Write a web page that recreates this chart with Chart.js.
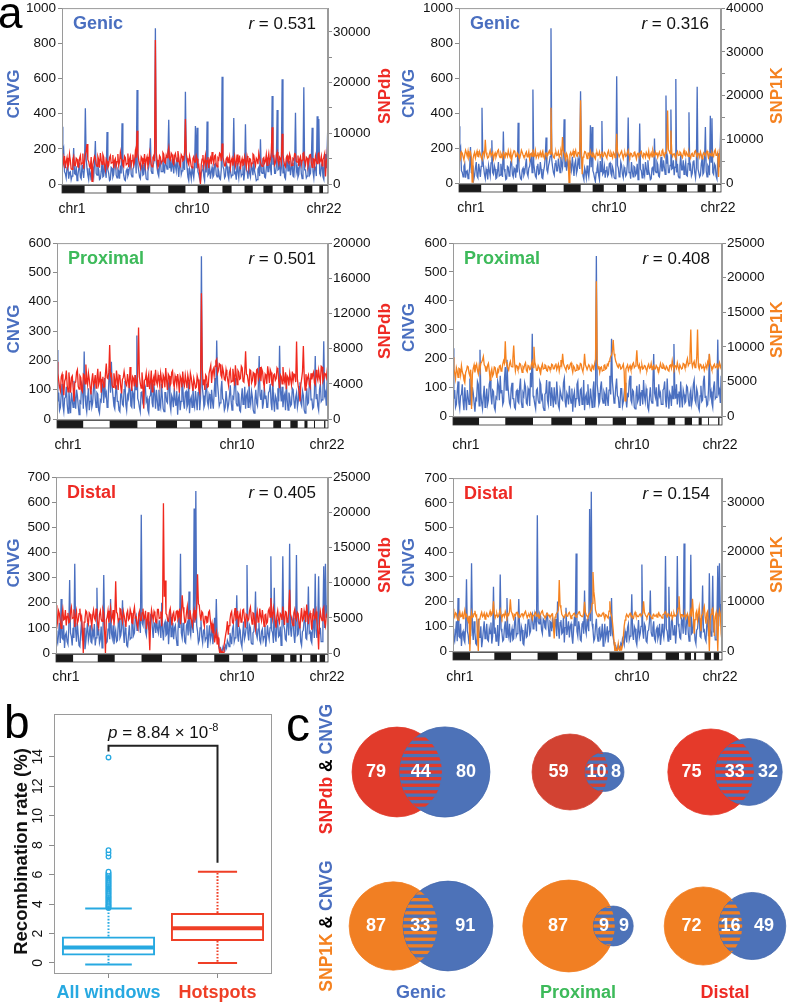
<!DOCTYPE html>
<html><head><meta charset="utf-8">
<script src="https://cdn.jsdelivr.net/npm/chart.js@4.4.1/dist/chart.umd.min.js"></script>
<style>
html,body{margin:0;padding:0;background:#fff;}
body{width:787px;height:1003px;position:relative;overflow:hidden;font-family:"Liberation Sans",Arial,Helvetica,sans-serif;}
canvas{position:absolute;}
.t{position:absolute;white-space:nowrap;line-height:1;}
.c{transform:translate(-50%,-50%);}
.rot{transform:translate(-50%,-50%) rotate(-90deg);font-weight:bold;font-size:17.5px;}
</style></head><body>
<canvas id="a1"></canvas><canvas id="a2"></canvas>
<canvas id="a3"></canvas><canvas id="a4"></canvas>
<canvas id="a5"></canvas><canvas id="a6"></canvas>
<canvas id="bx"></canvas><canvas id="vn"></canvas>
<div class="t" style="left:-2px;top:-9px;font-size:44px;">a</div>
<div class="t" style="left:4px;top:699px;font-size:46px;">b</div>
<div class="t" style="left:286px;top:701px;font-size:48px;">c</div>
<div class="t rot" style="left:327px;top:769px;"><span style="color:#ee2a24">SNPdb</span> &amp; <span style="color:#4a6fc0">CNVG</span></div>
<div class="t rot" style="left:327px;top:926px;"><span style="color:#f58220">SNP1K</span> &amp; <span style="color:#4a6fc0">CNVG</span></div>
<div class="t c" style="left:421px;top:992px;font-weight:bold;font-size:18px;color:#4a6fc0">Genic</div>
<div class="t c" style="left:578px;top:992px;font-weight:bold;font-size:18px;color:#3dba5a">Proximal</div>
<div class="t c" style="left:725px;top:992px;font-weight:bold;font-size:18px;color:#ee2a24">Distal</div>
<script>
// ---------------- DATA ----------------
const chrLabelNames = ['chr1', 'chr10', 'chr22'];

const cnvgGenic = [
325,180,200,70,60,35,95,110,30,65,70,25,45,90,205,60,55,100,20,45,
85,120,40,30,110,75,35,95,430,140,90,50,25,80,60,20,100,70,40,115,
245,60,50,100,80,25,30,70,120,40,45,110,70,35,295,80,60,20,25,95,
90,40,55,120,130,50,35,85,75,30,105,60,345,90,50,25,20,75,85,45,
60,100,140,55,40,85,95,130,150,60,535,110,75,40,30,95,110,50,55,120,
80,30,25,70,95,140,260,75,60,100,120,150,885,130,90,60,45,110,130,70,
70,140,100,60,150,110,85,160,365,90,120,70,140,100,60,130,105,75,150,95,
40,110,130,55,75,140,110,80,525,150,90,40,20,85,65,30,100,60,35,90,
330,90,320,70,55,30,10,60,80,110,45,20,125,65,355,50,60,95,30,70,
95,40,50,110,115,55,40,90,70,30,25,80,610,100,85,35,45,120,100,50,
30,90,75,40,50,110,375,60,65,25,120,70,35,95,90,45,55,110,20,60,
340,80,70,30,110,60,40,120,85,50,130,70,50,20,25,85,95,45,255,70,
60,120,105,40,35,90,150,70,70,130,90,50,500,110,140,60,60,100,420,80,
85,130,45,90,595,60,110,40,30,100,160,75,75,130,50,90,120,45,40,110,
405,70,95,40,55,120,130,60,30,90,550,80,80,35,45,110,140,50,60,130,
320,70,35,100,90,45,385,120,370,60,50,110,100,40,25,130,170,90,200,365];
const snpdbGenic = [
6000,3500,4200,5500,3100,4400,5200,3300,3800,5900,4600,3000,2900,4800,5400,3700,3600,5100,4900,3400,
3300,5000,5600,3900,4100,6000,3000,4500,5800,6500,7900,4800,4400,3500,3200,5300,500,3800,4700,5500,
5100,3900,3500,5400,4800,3200,6100,4700,3900,5800,5300,3600,2800,4900,4500,3300,3700,5200,5600,4100,
4200,5700,3100,4600,5000,3500,4400,5900,3600,4300,6200,5000,4800,3700,3400,5500,5200,3800,4000,6000,
3300,4900,5500,3600,4600,5800,3800,4400,6400,5200,10500,6000,4700,3900,3200,5400,5100,3700,4300,5900,
3600,4800,5400,3500,4100,6100,4900,3800,3400,5200,5600,4500,28400,6200,4800,3300,3700,5600,5300,4100,
4500,6200,5900,4300,4100,5700,5200,6300,7200,5000,4700,6100,5800,4200,3900,5600,6000,4800,4400,6500,
5300,4000,3600,5800,5500,4600,4800,6300,12800,5900,5100,4200,3800,5500,4600,3500,3200,5000,5400,4300,
4300,5600,5000,3400,3700,2200,0,3800,4900,5700,3500,4400,5600,3600,4600,5300,3100,4700,5200,3900,
6300,4800,4000,5500,5700,3800,3400,5100,4800,6100,5900,4500,8000,5300,4500,3600,3600,5000,5300,4200,
4200,5300,3300,4600,5100,3600,4700,5500,3500,4200,5800,4000,4400,5600,2900,4300,5000,3700,3800,5400,
4600,3400,5500,4700,3200,5000,4900,3600,4100,5900,5700,4400,3600,5100,4800,3900,6100,5200,4300,3700,
3500,5000,5200,4100,4500,5800,3700,4900,6000,4300,4900,6200,11200,5400,5500,3800,4200,5700,6300,4600,
3900,5300,5000,4200,9900,5800,4600,3700,3400,5200,5600,4400,4100,5900,5300,3600,3700,5000,4800,6000,
5900,4400,4300,5600,3500,4900,5400,3800,4700,6000,6200,4500,3800,5300,5100,3600,4400,5700,5800,4200,
3300,5000,4900,3700,5500,4600,4000,5900,6100,4300,4600,5500,3600,4800,5300,6000,1500,4500,5200,9200];
const snp1kGenic = [
7200,6400,5600,7100,6800,6000,5300,6500,7500,6900,6100,7300,5800,6400,7000,5900,200,5500,6400,7000,
5700,6600,7300,6100,6000,7200,6600,5800,5400,6800,7100,6300,9900,7000,6300,5700,5900,6700,7400,6200,
6200,7000,5500,6400,6900,5900,6500,7300,7600,6200,5800,6800,6300,5700,7000,6600,5600,6900,6700,6100,
7400,6500,6000,7100,5300,6200,6800,7400,7200,6000,6100,6900,6600,5800,5700,6500,7500,7000,6400,5900,
5900,6700,7100,6000,6300,7200,5500,6600,6800,6100,7700,6500,6200,7400,5800,6300,7000,5900,6500,7100,
6000,6800,7300,6100,5600,6700,6900,6200,6300,7000,7400,6600,17200,7200,6600,5900,5700,6800,7100,6300,
6400,7100,5900,6600,7200,6300,10500,7400,6800,6000,5400,6700,6200,4800,0,6500,7000,6300,6600,7300,
5800,6900,7500,6200,6100,7000,6900,6400,18900,7600,2000,5900,6300,7200,7100,6500,5600,6800,6800,6100,
7300,6500,6000,6900,6700,5900,5500,6800,7000,6300,6400,7100,5900,6500,7200,6000,6200,7000,6800,6100,
5700,6900,7400,6300,6100,7000,6500,5800,7000,6700,5800,6400,11250,7200,6600,6000,6000,6900,7300,6400,
5600,6600,6900,6100,6300,7000,7500,6400,5900,6800,6700,6000,6200,6900,7100,6300,5500,6600,6800,6200,
6400,7000,7200,6100,5800,6800,6600,5900,7000,6500,6100,7300,5700,6400,6900,6000,7400,6600,6200,7100,
6500,7000,5900,6600,7100,6200,6300,7300,7600,6500,6000,6900,6800,8000,16600,7600,7300,6700,12000,6900,
6100,6600,6700,6000,5600,6800,7200,6300,6400,7100,6900,6200,5800,6700,7500,6400,6200,7000,6600,6100,
7000,6200,5700,6600,6800,6100,6300,7200,7400,6500,6000,6800,6600,5900,7100,6400,5500,6300,6900,6600,
6200,7000,7300,6400,5900,6800,6700,6200,7000,6500,6100,7200,7600,6300,6400,7000,1400,5800,7400,9000];

const cnvgProx = [
235,60,90,30,40,85,120,45,25,70,75,110,50,20,100,55,20,90,65,40,
130,75,35,100,80,45,15,60,55,120,110,35,230,80,45,25,70,105,30,60,
95,40,55,110,125,70,40,90,85,30,20,65,60,120,105,55,140,80,90,40,
50,130,170,90,195,110,75,45,35,95,115,60,60,30,25,85,90,50,45,100,
130,50,30,80,70,115,100,45,40,95,85,35,150,100,285,70,60,40,25,90,
95,55,45,120,110,60,70,30,20,75,80,125,55,40,120,85,35,100,65,30,
100,55,40,120,75,35,25,90,90,60,55,115,130,50,30,80,70,40,105,65,
45,95,15,70,85,30,60,110,120,55,35,90,95,40,50,125,20,65,75,40,
110,55,40,95,65,30,90,120,30,70,555,110,80,40,50,100,120,60,45,85,
75,35,100,60,35,90,140,75,268,120,85,45,55,100,130,70,65,30,40,95,
95,35,50,80,115,60,30,75,70,120,140,55,45,90,85,30,25,70,105,50,
60,110,35,80,90,40,125,70,50,95,75,30,20,65,100,55,45,110,215,80,
65,100,35,55,110,70,80,40,40,90,95,120,55,30,130,65,25,80,70,35,
105,60,250,95,60,110,40,75,85,30,120,65,30,90,75,45,50,105,100,60,
35,75,90,40,60,110,125,55,45,95,80,30,20,70,105,50,55,120,140,65,
70,35,40,90,215,70,85,45,30,100,120,60,65,95,265,80,90,45,140,110];
const snpdbProx = [
6500,5200,4400,3600,3200,4800,5100,3900,2700,4300,4600,5500,3800,3100,5300,4200,3000,4700,4900,3500,
2000,4100,4200,5300,5600,3700,3400,4900,4700,3300,3100,5100,5000,4000,6200,4600,3900,5200,4500,3600,
2800,4400,5200,3800,4100,5000,3500,4600,5700,3900,4300,5400,3000,4500,4800,3600,3700,5100,6300,4700,
4600,5300,8400,4900,5100,3800,3600,5200,4400,3400,5500,4600,3300,5000,4900,3700,2900,4500,4700,5400,
5400,4000,3800,5100,4300,3500,5900,4500,3200,4800,4600,3700,5000,4200,3600,5300,10400,4800,4100,3500,
5300,4200,1200,4400,4500,5200,3700,4600,5100,3400,4200,5500,3100,4400,4800,3800,5600,4300,3900,5000,
4400,3700,5200,4500,3500,5000,4700,3600,5800,4400,3300,5100,4900,3800,4000,5300,5500,4100,3600,4900,
4500,3800,5100,4300,3000,4900,4600,3600,5400,4200,3800,5000,4300,3500,5000,4400,3400,5200,4700,3900,
3200,4600,4100,3500,3600,4900,4500,3400,3000,4700,14300,5800,3900,4500,3300,5000,4800,3600,3700,5200,
5200,6100,4100,5400,5700,4900,6000,6600,6800,5200,5500,6300,6200,5000,4700,5800,5300,4500,4400,5600,
5000,4400,3800,5300,5600,4200,4300,5700,4900,3800,6100,5000,3900,5500,5300,4500,4600,6000,5800,4300,
4200,5400,7700,5100,5000,4300,3700,5600,5500,4100,4400,5300,5200,3800,4000,5600,5700,4500,4800,5900,
4300,5700,5400,4200,3600,5100,4900,4000,6000,5200,4100,5600,5300,3900,3800,5000,5100,4400,4600,5800,
5600,4300,3500,5000,4800,4000,5900,4600,4200,5300,3400,4900,4700,3800,5200,4500,3900,5400,4400,5100,
5000,4200,8800,4500,3700,3100,2000,3900,4600,5400,8300,4800,3300,5100,4100,4700,5000,3900,3600,5200,
4500,5000,5300,4100,3900,5600,4800,4400,5500,4700,4200,6000,5900,4300,4600,5200,5100,4700,5500,6300];
const snp1kProx = [
8500,6800,6200,5400,7000,6500,5600,6900,6800,5900,7300,6400,6000,5200,4800,6300,6600,7200,7100,6200,
5800,6700,1000,6000,6900,7400,6300,7100,7500,6600,6100,7300,6700,7600,7800,8100,8600,7400,7200,6500,
6500,7300,7600,6600,5200,6300,6800,5800,6100,7100,7000,6200,5500,6700,6400,7200,7300,6500,6700,7500,
8000,7600,10800,7800,7400,6900,6600,7500,7900,7200,7100,8400,10200,7700,6500,7300,7200,6700,6800,7600,
7500,6900,6300,7100,6900,7400,7700,6600,6400,7300,7200,6700,6800,7500,7900,7000,10000,7800,7300,6600,
6600,7300,7000,6500,6200,7100,7500,6800,6900,7400,7300,6600,6500,7200,7100,6700,6700,7500,7400,6800,
6800,7300,7600,6700,7100,7500,6500,7200,8100,7400,9000,7600,7200,6900,6600,7300,7400,6800,6900,7500,
7700,6900,6300,7200,7000,6500,6600,7400,7300,6700,6800,7600,7500,6800,6400,7100,9000,7400,7100,6700,
6700,7400,7200,6600,6500,7300,7000,6800,7600,8200,19500,7800,6800,7200,6300,7000,7100,6500,6600,7300,
7400,6800,6900,7500,7300,7900,8200,8600,8800,9400,11000,9000,8500,7900,7600,7200,7000,7500,7300,6800,
6900,7200,7500,6400,2200,6800,7100,7400,6600,7000,7300,6700,6800,7500,7700,7000,7200,7800,9500,7400,
7000,7400,6500,7100,7400,6800,6900,7300,7200,6700,6600,7200,7500,6900,7000,7600,6700,7100,7300,6800,
6800,7300,7100,6600,6400,7000,7600,7100,6900,7500,7300,6800,6700,7200,7000,6600,6500,7300,7400,6900,
8000,7200,6800,7300,7200,6900,7700,7100,6600,7400,7100,6800,6900,7600,7500,7000,7000,7800,8300,7300,
7600,8800,12500,7900,7100,7600,7900,7000,7300,8400,12500,7200,6800,7500,7400,6900,7000,7300,6600,7100,
7300,6900,7800,7400,9000,7600,7200,6700,6800,7300,7500,7000,7100,7600,6900,7200,7700,7000,7300,8100];

const cnvgDist = [
90,55,40,75,120,40,215,60,55,110,20,70,80,45,35,100,290,80,65,30,
100,60,355,90,45,120,75,30,25,80,130,55,60,100,15,45,85,120,50,70,
110,45,40,90,70,115,30,60,260,70,95,40,55,105,20,65,310,90,75,40,
45,95,120,55,215,80,60,110,35,70,90,45,50,115,140,60,70,100,210,85,
40,100,85,30,25,70,110,55,60,125,130,70,80,140,150,90,95,145,120,80,
550,120,110,150,140,85,70,130,125,95,90,150,145,100,60,120,115,80,135,95,
80,130,100,60,200,90,50,115,125,70,75,140,35,95,175,65,90,120,55,100,
110,60,30,85,140,100,395,80,60,120,95,45,40,110,120,70,245,90,70,130,
105,80,575,120,645,110,85,40,50,100,130,65,40,90,95,50,60,110,20,70,
110,50,70,100,35,80,140,60,215,70,55,30,15,20,5,10,25,15,10,30,
20,50,40,25,80,60,35,95,110,45,60,85,230,70,45,100,90,40,25,75,
125,55,70,100,350,80,50,110,100,40,35,80,85,120,245,75,60,95,120,50,
40,85,95,50,65,110,25,60,110,75,55,100,385,90,80,40,260,70,45,120,
130,65,70,105,30,80,385,110,95,55,50,130,120,70,435,100,65,120,140,75,
40,95,390,70,75,120,110,45,30,85,90,130,150,60,55,110,265,80,85,50,
40,110,125,60,315,90,60,120,305,75,100,45,45,130,345,100,355,140,190,120];
const snpdbDist = [
6800,5100,4200,6000,5600,4400,3500,5300,6200,4700,4800,6100,3900,5200,5700,4300,4400,5900,6500,4900,
5000,6200,3700,5100,5900,4200,4600,5600,6300,4800,5200,3100,0,4400,4900,6000,5800,4500,4100,5700,
5500,4600,3800,5400,6100,5000,4700,6300,5300,4100,3600,5500,6000,4800,4500,6200,5700,3000,0,4700,
5100,6000,4300,5500,6400,4600,5000,6100,3900,5400,10200,5800,5600,4500,4800,6300,6200,5000,4400,5900,
5300,4500,3700,5600,6000,4700,4900,6200,5700,4300,4200,5800,6500,5000,5100,4100,3600,5400,5900,4600,
4600,5700,6300,4800,5000,6000,3400,4700,5800,3200,400,4500,6100,5300,4700,5900,5500,4400,4300,6200,
6200,4900,5000,5900,3800,6400,21300,8000,10300,5600,5400,4600,4500,5800,6300,5100,3900,5500,5800,4600,
4700,5900,6000,4800,5200,6300,4100,5400,8200,6500,5600,4300,4400,5700,6600,4900,4900,6100,5300,4500,
3900,5500,6100,4700,5000,6500,11200,7000,6800,5400,4600,5900,5700,4400,3800,5200,5200,4300,4400,5800,
6000,4700,3500,4200,2800,3600,1500,2400,3000,1200,2200,800,0,500,0,200,0,1000,1800,2600,
3300,4500,2600,3900,4700,5600,5900,4300,4200,5400,6400,4800,5000,6000,3700,5200,5800,4400,4500,6100,
6200,4900,3600,5500,5300,4600,4800,6000,6500,5100,4100,5700,5600,4300,3400,5200,5900,4400,4700,6300,
5200,4600,6100,5000,3800,5400,5500,4200,4400,6000,6300,5100,7800,5800,4900,6400,5700,4500,3600,5300,
6000,4800,4300,5600,5400,4700,6600,5200,4000,5900,5800,4400,4600,6200,9000,5500,5100,4300,3900,5700,
6200,5000,4700,5800,5600,4200,3500,5100,6400,4600,4800,6000,5300,4400,6900,5500,4100,5300,5700,4700,
3300,5200,6300,4800,5000,5900,4400,3100,500,4600,5900,5100,4600,6200,6500,4300,3800,5400,5600,6400];
const snp1kDist = [
8500,7200,6800,7700,7500,6600,6200,7400,7900,6900,7000,7600,6500,7300,8200,7000,7300,6500,6000,7100,
0,5200,7700,6800,6900,7500,8100,7000,7200,3000,0,6400,6600,7300,7800,6900,7100,7600,6400,7200,
7600,7000,6900,7400,8000,7100,7300,7800,10000,7500,6700,7200,7500,6800,7000,7700,8300,7200,6600,7300,
7400,6900,7900,7300,6800,7500,7200,7900,10400,8000,7600,7000,6500,7300,7100,7700,7800,7200,7300,6800,
6900,7400,7500,7000,7100,7700,8000,7300,6700,7200,7300,6900,7700,7400,6400,7100,7200,7600,7800,7000,
7000,7400,6600,7200,7400,7900,8100,7300,7100,6700,6800,7500,7600,7100,7200,6800,6900,7400,7500,5500,
2500,6800,7300,7600,7900,8300,14300,9200,8600,7400,7100,6900,6700,7300,7500,7100,7000,7600,7800,7200,
6500,7100,7200,7500,7600,7000,6800,7300,7400,7800,7900,7200,7100,6900,7000,7600,9900,7800,7300,7000,
6800,7400,7500,7900,8300,9600,15900,12000,10500,8200,7600,7200,6900,7400,7300,7000,7000,7500,7700,7100,
6400,7300,7200,6800,6600,8000,10000,7600,7100,6000,4200,1800,0,600,0,0,1500,300,0,800,
300,1200,2800,5000,6200,6900,7400,7000,6800,7300,7600,7100,7100,6800,6600,7400,7800,7100,7200,6900,
6900,7300,7500,7000,7000,7600,10000,7800,7300,7000,6700,7200,7600,7400,7100,6800,6500,7200,7400,7000,
7000,7300,6800,7400,7700,7100,7200,6900,6600,7300,7400,7700,7900,7200,6900,7500,7300,7000,7100,7600,
6500,7100,7600,7000,7000,7400,7800,8600,11000,7900,6800,7300,7300,6900,7100,7400,6600,7200,7500,6900,
5000,7400,8200,6900,10500,7800,3500,6300,7600,8100,6200,7500,8800,6600,4000,7200,7300,8400,9000,6800,
5500,7600,8000,4500,0,6200,7400,8300,8600,6800,3000,7000,7700,5200,0,6800,8200,7500,3500,2000];

// chromosome boundaries (window index), chr1..chr22
const genicChrBounds = [0,27.3,53.4,71.4,89.3,106.1,127.4,148.3,162.7,176.4,192.4,203.6,218.9,228.9,241.6,252.8,265.6,277.7,290.5,300.5,308.6,313.0,319];
const proxChrBounds  = [0,31.1,62.0,94.9,116.6,141.4,156.5,171.1,189.4,205.2,217.9,239.2,254.6,263.8,274.7,283.5,291.3,295.1,302.5,303.8,314.4,316.2,319];
const distChrBounds  = [0,20.3,49.0,69.0,100.3,124.4,146.9,165.3,185.6,203.4,219.1,236.5,252.2,268.0,274.7,282.3,285.9,288.5,298.3,306.2,309.2,315.8,319];

// tick values / labels
const cnvgGenicTicks = [0,100,200,300,400,500,600,700,800,900,1000];
const cnvgGenicLabels = [0,200,400,600,800,1000];
const cnvgProxTicks = [0,100,200,300,400,500,600];
const cnvgDistTicks = [0,100,200,300,400,500,600,700];
const snpdbGenicTicks = [0,5000,10000,15000,20000,25000,30000];
const snpdbGenicLabels = [0,10000,20000,30000];
const snp1kGenicTicks = [0,5000,10000,15000,20000,25000,30000,35000,40000];
const snp1kGenicLabels = [0,10000,20000,30000,40000];
const snpdbProxTicks = [0,2000,4000,6000,8000,10000,12000,14000,16000,18000,20000];
const snpdbProxLabels = [0,4000,8000,12000,16000,20000];
const snp25Ticks = [0,2500,5000,7500,10000,12500,15000,17500,20000,22500,25000];
const snp25Labels = [0,5000,10000,15000,20000,25000];
const snp1kDistTicks = [0,5000,10000,15000,20000,25000,30000];
const snp1kDistLabels = [0,10000,20000,30000];

// panel b
const boxGroups = ['All windows', 'Hotspots'];
const boxLow = [-0.1, 0.0];
const boxQ1 = [0.5, 1.5];
const boxMedian = [1.05, 2.35];
const boxQ3 = [1.8, 3.4];
const boxHigh = [3.7, 6.2];
const outliersAll = [3.74,3.8,3.87,3.93,4.0,4.08,4.15,4.22,4.3,4.37,4.45,4.52,4.6,4.68,4.75,4.83,4.9,4.98,5.05,5.13,5.2,5.28,5.35,5.43,5.5,5.58,5.65,5.73,5.8,5.88,5.95,6.03,6.1,6.2,7.22,7.45,7.66,13.95];
const recTicks = [0,2,4,6,8,10,12,14];

// panel c (counts)
const vennColumns = ['Genic', 'Proximal', 'Distal'];
const snpdbOnly = [79, 59, 75], snpdbShared = [44, 10, 33], cnvgOnlyA = [80, 8, 32];
const snp1kOnly = [87, 87, 72], snp1kShared = [33, 9, 16], cnvgOnlyB = [91, 9, 49];

// ---------------- STYLE / LAYOUT ----------------
const FONT = '"Liberation Sans", Arial, Helvetica, sans-serif';
Chart.defaults.font.family = FONT;
Chart.defaults.color = '#111';
const LINE_BLUE = '#4a6fc0', LINE_RED = '#f0281d', LINE_ORANGE = '#f5821f';
const T_BLUE = '#4a6fc0', T_RED = '#ee2a24', T_ORANGE = '#f58220', T_GREEN = '#3dba5a';

function decoPlugin(c) {
  return {
    id: 'deco_' + c.id,
    afterDraw(chart) {
      const ctx = chart.ctx, ca = chart.chartArea, xs = chart.scales.x;
      ctx.save();
      ctx.strokeStyle = '#9a9a9a'; ctx.lineWidth = 1;
      ctx.strokeRect(ca.left + 0.5, ca.top + 0.5, ca.right - ca.left - 1, ca.bottom - ca.top);
      const y0 = ca.bottom + 1.5, bh = 7.5;
      for (let i = 0; i < c.bounds.length - 1; i++) {
        const x0 = xs.getPixelForValue(c.bounds[i]), x1 = xs.getPixelForValue(c.bounds[i + 1]);
        ctx.fillStyle = i % 2 === 0 ? '#1a1a1a' : '#ffffff';
        ctx.fillRect(x0, y0, x1 - x0, bh);
      }
      ctx.strokeStyle = '#333'; ctx.lineWidth = 0.8;
      ctx.strokeRect(xs.getPixelForValue(0), y0, xs.getPixelForValue(c.bounds[c.bounds.length - 1]) - xs.getPixelForValue(0), bh);
      ctx.textBaseline = 'middle';
      ctx.textAlign = 'left';
      ctx.fillStyle = c.groupColor;
      ctx.font = 'bold 18px ' + FONT;
      ctx.fillText(c.group, ca.left + 11, ca.top + 16);
      ctx.fillStyle = '#111';
      ctx.font = 'italic 17px ' + FONT;
      const wr = ctx.measureText('r').width;
      ctx.font = '17px ' + FONT;
      const rest = ' = ' + c.r;
      const wt = ctx.measureText(rest).width;
      const xr = ca.right - 12 - wt - wr;
      ctx.font = 'italic 17px ' + FONT;
      ctx.fillText('r', xr, ca.top + 16);
      ctx.font = '17px ' + FONT;
      ctx.fillText(rest, xr + wr, ca.top + 16);
      const cy = (ca.top + ca.bottom) / 2;
      ctx.textAlign = 'center';
      ctx.font = 'bold 17px ' + FONT;
      ctx.save(); ctx.translate(14, cy - 2); ctx.rotate(-Math.PI / 2);
      ctx.fillStyle = T_BLUE; ctx.fillText('CNVG', 0, 0); ctx.restore();
      ctx.save(); ctx.translate(chart.width - 10, cy); ctx.rotate(-Math.PI / 2);
      ctx.fillStyle = c.snpNameColor; ctx.fillText(c.snpName, 0, 0); ctx.restore();
      ctx.restore();
    }
  };
}

function makeLine(c) {
  const cv = document.getElementById(c.id);
  cv.width = c.w; cv.height = c.h;
  cv.style.left = c.left + 'px'; cv.style.top = c.top + 'px';
  const idx = c.cnvg.map((_, i) => i);
  new Chart(cv, {
    type: 'line',
    data: { labels: idx, datasets: [
      { data: c.snp, borderColor: c.snpColor, yAxisID: 'yR', order: 0 },
      { data: c.cnvg, borderColor: LINE_BLUE, yAxisID: 'yL', order: 1 }
    ]},
    options: {
      responsive: false, animation: false, devicePixelRatio: 1,
      layout: { padding: { top: 9, left: 0, right: 0, bottom: 0 } },
      elements: { point: { radius: 0 }, line: { borderWidth: 1.3, tension: 0 } },
      plugins: { legend: { display: false }, tooltip: { enabled: false } },
      scales: {
        x: { type: 'linear', min: 0, max: idx.length - 1,
          grid: { display: false }, border: { display: false },
          afterBuildTicks: s => { s.ticks = c.chrPos.map(v => ({ value: v })); },
          afterFit: s => { s.height = 34; },
          ticks: { autoSkip: false, maxRotation: 0, minRotation: 0, padding: c.xPad, color: '#111',
            font: { size: 14 }, callback: (v, i) => chrLabelNames[i] } },
        yL: { type: 'linear', position: 'left', min: 0, max: c.leftMax,
          afterBuildTicks: s => { s.ticks = c.leftTicks.map(v => ({ value: v })); },
          afterFit: s => { s.width = c.yLW; },
          grid: { drawOnChartArea: false, tickLength: 4, color: '#8a8a8a' },
          border: { display: true, color: '#9a9a9a' },
          ticks: { padding: 2, color: '#111', font: { size: 13.5 },
            callback: v => c.leftLabels.includes(v) ? String(v) : '' } },
        yR: { type: 'linear', position: 'right', min: 0, max: c.rightMax,
          afterBuildTicks: s => { s.ticks = c.rightTicks.map(v => ({ value: v })); },
          afterFit: s => { s.width = c.yRW; },
          grid: { drawOnChartArea: false, tickLength: 4, color: '#8a8a8a' },
          border: { display: true, color: '#9a9a9a' },
          ticks: { padding: 1, color: '#111', font: { size: 13.5 },
            callback: v => c.rightLabels.includes(v) ? String(v) : '' } }
      }
    },
    plugins: [decoPlugin(c)]
  });
}

const lineCharts = [
  { id: 'a1', left: 0, top: -2, w: 395, h: 220, yLW: 62, yRW: 67, xPad: 9,
    cnvg: cnvgGenic, snp: snpdbGenic, snpColor: LINE_RED, snpName: 'SNPdb', snpNameColor: T_RED,
    leftMax: 1000, leftTicks: cnvgGenicTicks, leftLabels: cnvgGenicLabels,
    rightMax: 34700, rightTicks: snpdbGenicTicks, rightLabels: snpdbGenicLabels,
    bounds: genicChrBounds, chrPos: [12.0, 155.9, 314.2], group: 'Genic', groupColor: T_BLUE, r: '0.531' },
  { id: 'a2', left: 395, top: -2, w: 392, h: 219, yLW: 64, yRW: 66, xPad: 9,
    cnvg: cnvgGenic, snp: snp1kGenic, snpColor: LINE_ORANGE, snpName: 'SNP1K', snpNameColor: T_ORANGE,
    leftMax: 1000, leftTicks: cnvgGenicTicks, leftLabels: cnvgGenicLabels,
    rightMax: 40000, rightTicks: snp1kGenicTicks, rightLabels: snp1kGenicLabels,
    bounds: genicChrBounds, chrPos: [14.6, 182.6, 315.4], group: 'Genic', groupColor: T_BLUE, r: '0.316' },
  { id: 'a3', left: 0, top: 233, w: 395, h: 220, yLW: 57, yRW: 67, xPad: 10,
    cnvg: cnvgProx, snp: snpdbProx, snpColor: LINE_RED, snpName: 'SNPdb', snpNameColor: T_RED,
    leftMax: 600, leftTicks: cnvgProxTicks, leftLabels: cnvgProxTicks,
    rightMax: 20000, rightTicks: snpdbProxTicks, rightLabels: snpdbProxLabels,
    bounds: proxChrBounds, chrPos: [13.0, 211.9, 317.8], group: 'Proximal', groupColor: T_GREEN, r: '0.501' },
  { id: 'a4', left: 395, top: 233, w: 392, h: 217, yLW: 58, yRW: 65, xPad: 13,
    cnvg: cnvgProx, snp: snp1kProx, snpColor: LINE_ORANGE, snpName: 'SNP1K', snpNameColor: T_ORANGE,
    leftMax: 600, leftTicks: cnvgProxTicks, leftLabels: cnvgProxTicks,
    rightMax: 25000, rightTicks: snp25Ticks, rightLabels: snp25Labels,
    bounds: proxChrBounds, chrPos: [15.4, 212.3, 316.6], group: 'Proximal', groupColor: T_GREEN, r: '0.408' },
  { id: 'a5', left: 0, top: 467, w: 395, h: 220, yLW: 56, yRW: 67, xPad: 7.5,
    cnvg: cnvgDist, snp: snpdbDist, snpColor: LINE_RED, snpName: 'SNPdb', snpNameColor: T_RED,
    leftMax: 700, leftTicks: cnvgDistTicks, leftLabels: cnvgDistTicks,
    rightMax: 25000, rightTicks: snp25Ticks, rightLabels: snp25Labels,
    bounds: distChrBounds, chrPos: [11.6, 212.3, 317.8], group: 'Distal', groupColor: T_RED, r: '0.405' },
  { id: 'a6', left: 395, top: 468, w: 392, h: 217, yLW: 58, yRW: 65, xPad: 9.5,
    cnvg: cnvgDist, snp: snp1kDist, snpColor: LINE_ORANGE, snpName: 'SNP1K', snpNameColor: T_ORANGE,
    leftMax: 700, leftTicks: cnvgDistTicks, leftLabels: cnvgDistTicks,
    rightMax: 34800, rightTicks: snp1kDistTicks, rightLabels: snp1kDistLabels,
    bounds: distChrBounds, chrPos: [8.2, 212.3, 316.6], group: 'Distal', groupColor: T_RED, r: '0.154' }
];
lineCharts.forEach(makeLine);

// ---------------- PANEL B ----------------
const BOX_COLORS = ['#27a9e1', '#ef3f26'];
const capFrac = [0.5, 0.42];
const boxDeco = {
  id: 'boxdeco',
  afterDatasetsDraw(chart) {
    const ctx = chart.ctx, y = chart.scales.y;
    const meta = chart.getDatasetMeta(0);
    ctx.save();
    boxGroups.forEach((g, i) => {
      const el = meta.data[i];
      const cx = el.x, half = el.width / 2 - 1;
      ctx.strokeStyle = BOX_COLORS[i];
      ctx.setLineDash([]);
      ctx.lineWidth = 4;
      const ym = y.getPixelForValue(boxMedian[i]);
      ctx.beginPath(); ctx.moveTo(cx - half, ym); ctx.lineTo(cx + half, ym); ctx.stroke();
      ctx.lineWidth = 2; ctx.setLineDash([1.6, 1.6]);
      ctx.beginPath();
      ctx.moveTo(cx, y.getPixelForValue(boxQ3[i])); ctx.lineTo(cx, y.getPixelForValue(boxHigh[i]));
      ctx.moveTo(cx, y.getPixelForValue(boxQ1[i])); ctx.lineTo(cx, y.getPixelForValue(boxLow[i]));
      ctx.stroke();
      ctx.setLineDash([]);
      const cw = (el.width / 2) * capFrac[i];
      ctx.beginPath();
      ctx.moveTo(cx - cw, y.getPixelForValue(boxHigh[i])); ctx.lineTo(cx + cw, y.getPixelForValue(boxHigh[i]));
      ctx.moveTo(cx - cw, y.getPixelForValue(boxLow[i])); ctx.lineTo(cx + cw, y.getPixelForValue(boxLow[i]));
      ctx.stroke();
    });
    ctx.restore();
  },
  afterDraw(chart) {
    const ctx = chart.ctx, ca = chart.chartArea, y = chart.scales.y;
    const meta = chart.getDatasetMeta(0);
    ctx.save();
    ctx.strokeStyle = '#9a9a9a'; ctx.lineWidth = 1;
    ctx.strokeRect(ca.left + 0.5, ca.top + 0.5, ca.right - ca.left - 1, ca.bottom - ca.top);
    ctx.fillStyle = '#111'; ctx.font = '14px ' + FONT;
    ctx.textAlign = 'center'; ctx.textBaseline = 'middle';
    recTicks.forEach(v => {
      ctx.save(); ctx.translate(ca.left - 16, y.getPixelForValue(v)); ctx.rotate(-Math.PI / 2);
      ctx.fillText(String(v), 0, 0); ctx.restore();
    });
    ctx.font = 'bold 18.5px ' + FONT;
    ctx.save(); ctx.translate(22, (ca.top + ca.bottom) / 2 + 8); ctx.rotate(-Math.PI / 2);
    ctx.fillText('Recombination rate (%)', 0, 0); ctx.restore();
    const x0 = meta.data[0].x, x1 = meta.data[1].x;
    const yt = y.getPixelForValue(14.75);
    ctx.strokeStyle = '#222'; ctx.lineWidth = 2;
    ctx.beginPath();
    ctx.moveTo(x0, y.getPixelForValue(14.35)); ctx.lineTo(x0, yt); ctx.lineTo(x1, yt); ctx.lineTo(x1, y.getPixelForValue(6.8));
    ctx.stroke();
    ctx.textAlign = 'left'; ctx.textBaseline = 'alphabetic'; ctx.fillStyle = '#111';
    ctx.font = 'italic 17px ' + FONT; const wp = ctx.measureText('p').width;
    ctx.font = '17px ' + FONT; const main = ' = 8.84 \u00d7 10'; const wm = ctx.measureText(main).width;
    ctx.font = '11px ' + FONT; const ws = ctx.measureText('-8').width;
    const xs = (x0 + x1) / 2 - (wp + wm + ws) / 2;
    const yb = yt - 8;
    ctx.font = 'italic 17px ' + FONT; ctx.fillText('p', xs, yb);
    ctx.font = '17px ' + FONT; ctx.fillText(main, xs + wp, yb);
    ctx.font = '11px ' + FONT; ctx.fillText('-8', xs + wp + wm + 0.5, yb - 7);
    ctx.restore();
  }
};
(function () {
  const cv = document.getElementById('bx');
  cv.width = 290; cv.height = 313; cv.style.left = '0px'; cv.style.top = '690px';
  new Chart(cv, {
    type: 'bar',
    data: { labels: boxGroups, datasets: [
      { type: 'bar', data: boxQ1.map((q, i) => [q, boxQ3[i]]), backgroundColor: 'rgba(255,255,255,0)',
        borderColor: BOX_COLORS, borderWidth: 2, borderSkipped: false, barPercentage: 0.855, categoryPercentage: 1 },
      { type: 'line', data: outliersAll.map(v => ({ x: boxGroups[0], y: v })), showLine: false,
        pointRadius: 2.3, pointBorderWidth: 1.3, pointBorderColor: BOX_COLORS[0], pointBackgroundColor: '#fff' }
    ]},
    options: {
      responsive: false, animation: false, devicePixelRatio: 1,
      layout: { padding: { top: 24, right: 18, left: 0, bottom: 0 } },
      plugins: { legend: { display: false }, tooltip: { enabled: false } },
      scales: {
        x: { type: 'category', offset: true,
          grid: { display: true, offset: false, drawOnChartArea: false, tickLength: 5, color: '#8a8a8a' },
          border: { display: false },
          afterFit: s => { s.height = 30; },
          ticks: { autoSkip: false, maxRotation: 0, minRotation: 0, padding: 4,
            color: ctx => BOX_COLORS[ctx.index], font: { size: 18, weight: 'bold' } } },
        y: { type: 'linear', min: -0.68, max: 16.9,
          afterBuildTicks: s => { s.ticks = recTicks.map(v => ({ value: v })); },
          afterFit: s => { s.width = 54; },
          grid: { drawOnChartArea: false, tickLength: 5, color: '#8a8a8a' },
          border: { display: false },
          ticks: { display: false } }
      }
    },
    plugins: [boxDeco]
  });
})();

// ---------------- PANEL C ----------------
const vennColX = [91, 248, 395];
const vennRowY = [92, 246];
const vennScale = [[4.05, 4.57, 4.14], [4.03, 4.69, 4.16]];
const vennLeftColors = [['#e13b2b', '#d24232', '#e53a2a'], ['#f17f23', '#f17f23', '#f17f23']];
const VENN_BLUE = '#4d72b8';
function lensArea(r1, r2, d) {
  if (d >= r1 + r2) return 0;
  if (d <= Math.abs(r1 - r2)) return Math.PI * Math.min(r1, r2) ** 2;
  const a = r1 * r1 * Math.acos((d * d + r1 * r1 - r2 * r2) / (2 * d * r1));
  const b = r2 * r2 * Math.acos((d * d + r2 * r2 - r1 * r1) / (2 * d * r2));
  const c = 0.5 * Math.sqrt((-d + r1 + r2) * (d + r1 - r2) * (d - r1 + r2) * (d + r1 + r2));
  return a + b - c;
}
const vennRows = [
  { only1: snpdbOnly, shared: snpdbShared, only2: cnvgOnlyA },
  { only1: snp1kOnly, shared: snp1kShared, only2: cnvgOnlyB }
];
const geo = [];
vennRows.forEach((row, ri) => vennColumns.forEach((_, ci) => {
  const n1 = row.only1[ci] + row.shared[ci], n2 = row.only2[ci] + row.shared[ci];
  const k = vennScale[ri][ci];
  const r1 = k * Math.sqrt(n1), r2 = k * Math.sqrt(n2);
  const target = Math.PI * k * k * row.shared[ci];
  let lo = Math.abs(r1 - r2) + 1e-6, hi = r1 + r2;
  for (let it = 0; it < 60; it++) { const m = (lo + hi) / 2; if (lensArea(r1, r2, m) > target) lo = m; else hi = m; }
  const d = (lo + hi) / 2;
  const x1 = vennColX[ci] - (r1 + d + r2) / 2 + r1;
  geo.push({ ri, ci, r1, r2, x1, x2: x1 + d, y: vennRowY[ri], col: vennLeftColors[ri][ci],
    t: [row.only1[ci], row.shared[ci], row.only2[ci]] });
}));
const vennDeco = {
  id: 'venndeco',
  afterDatasetsDraw(chart) {
    const ctx = chart.ctx, xs = chart.scales.x, ys = chart.scales.y;
    geo.forEach(g => {
      const p1 = xs.getPixelForValue(g.x1), p2 = xs.getPixelForValue(g.x2), py = ys.getPixelForValue(g.y);
      ctx.save();
      ctx.beginPath(); ctx.arc(p1, py, g.r1, 0, Math.PI * 2); ctx.clip();
      ctx.beginPath(); ctx.arc(p2, py, g.r2, 0, Math.PI * 2); ctx.clip();
      ctx.fillStyle = VENN_BLUE;
      ctx.fillRect(p2 - g.r2 - 2, py - 60, g.r1 + g.r2 + 10, 120);
      ctx.fillStyle = g.col;
      for (let yy = py - 1.6 - 6.6 * 9; yy < py + 60; yy += 6.6) ctx.fillRect(p2 - g.r2 - 2, yy, g.r1 + g.r2 + 10, 3.3);
      ctx.restore();
      ctx.save();
      ctx.fillStyle = '#fff'; ctx.font = 'bold 18px ' + FONT;
      ctx.textAlign = 'center'; ctx.textBaseline = 'middle';
      const lx = ((p1 - g.r1) + (p2 - g.r2)) / 2;
      const mx = ((p2 - g.r2) + (p1 + g.r1)) / 2;
      const rx = ((p1 + g.r1) + (p2 + g.r2)) / 2;
      ctx.fillText(String(g.t[0]), lx, py);
      ctx.fillText(String(g.t[1]), mx, py);
      ctx.fillText(String(g.t[2]), rx, py);
      ctx.restore();
    });
  }
};
(function () {
  const cv = document.getElementById('vn');
  cv.width = 457; cv.height = 323; cv.style.left = '330px'; cv.style.top = '680px';
  new Chart(cv, {
    type: 'bubble',
    data: { datasets: [
      { data: geo.map(g => ({ x: g.x2, y: g.y, r: g.r2 })), backgroundColor: VENN_BLUE, borderColor: '#4468ad', borderWidth: 0.8, clip: false },
      { data: geo.map(g => ({ x: g.x1, y: g.y, r: g.r1 })), backgroundColor: geo.map(g => g.col), borderColor: geo.map(g => g.col), borderWidth: 0.8, clip: false }
    ]},
    options: {
      responsive: false, animation: false, devicePixelRatio: 1,
      layout: { padding: 0, autoPadding: false },
      plugins: { legend: { display: false }, tooltip: { enabled: false } },
      scales: {
        x: { type: 'linear', display: false, min: 0, max: 457 },
        y: { type: 'linear', display: false, min: 0, max: 323, reverse: true }
      }
    },
    plugins: [vennDeco]
  });
})();
</script>
</body></html>
